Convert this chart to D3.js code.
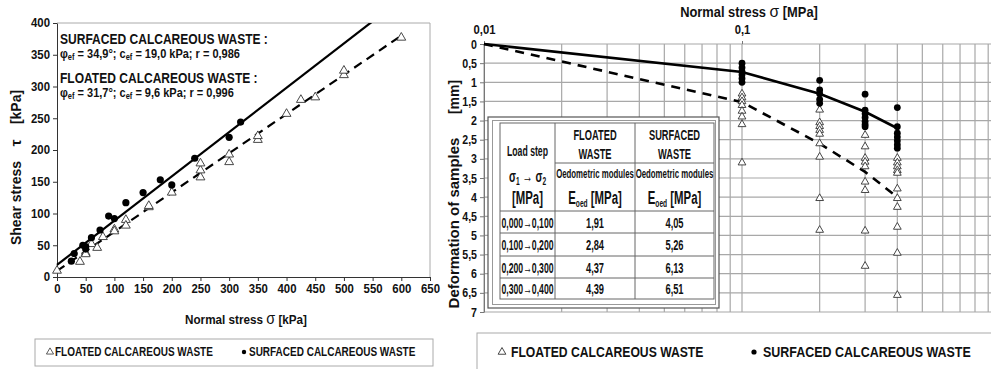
<!DOCTYPE html>
<html>
<head>
<meta charset="utf-8">
<script src="https://d3js.org/d3.v7.min.js"></script>
<style>
  body { margin: 0; background: #fff; }
  svg text { font-family: "Liberation Sans", Arial, sans-serif; font-weight: bold; fill: #111; }
</style>
</head>
<body>
<svg id="chart" width="991" height="369"></svg>
<script>
// ---- left chart: shear tests (sigma [kPa], tau [kPa])
const shearTicksX = d3.range(0, 651, 50);
const shearTicksY = d3.range(0, 401, 50);
const floatedSigma = [0, 40, 50, 50, 60, 70, 80, 100, 100, 120, 120, 160, 160, 200, 250, 250, 250, 300, 300, 350, 350, 400, 425, 450, 500, 500, 600];
const floatedTau = [10, 24, 38, 36, 52, 46, 63, 75, 72, 90, 81, 110, 112, 133, 157, 168, 179, 181, 193, 216, 222, 257, 279, 283, 318, 325, 377];
const surfacedSigma = [25, 30, 45, 50, 50, 60, 75, 90, 100, 120, 150, 180, 200, 240, 300, 320];
const surfacedTau = [25, 37, 50, 44, 48, 62, 74, 96, 92, 117, 133, 153, 145, 187, 220, 244];
// regression lines: c [kPa], phi [deg], last sigma
const fitCohesion = [9.6, 19.0];
const fitPhi = [31.7, 34.9];
const fitSigmaEnd = [600, 650];
const fitDash = ['9,6', null];
const annotTitles = ['SURFACED CALCAREOUS WASTE :', 'FLOATED CALCAREOUS WASTE :'];
const annotPhi = ['34,9°', '31,7°'];
const annotC = ['19,0 kPa', '9,6 kPa'];
const annotR = ['0,986', '0,996'];

// ---- right chart: oedometer tests (sigma [MPa], deformation [mm])
const oedStress = [0.1, 0.2, 0.3, 0.4];
const floatedDef = [
  [1.3, 1.4, 1.5, 1.6, 1.75, 1.9, 2.1, 3.1],
  [1.72, 2.05, 2.15, 2.25, 2.35, 2.6, 2.95, 4.03, 4.86],
  [2.38, 2.68, 2.98, 3.08, 3.2, 3.6, 3.82, 4.88, 5.8],
  [2.98, 3.1, 3.2, 3.3, 3.37, 3.78, 4.03, 4.26, 4.78, 5.46, 6.56]
];
const surfacedDef = [
  [0.5, 0.62, 0.72, 0.8, 0.9, 1.0],
  [0.95, 1.2, 1.3, 1.45, 1.55],
  [1.31, 1.73, 1.82, 1.92, 2.02, 2.1, 2.16],
  [1.66, 2.16, 2.33, 2.43, 2.53, 2.63, 2.72]
];
const curveStress = [0.01, 0.1, 0.2, 0.3, 0.4];
const floatedCurve = [0, 1.52, 2.6, 3.34, 4.0];
const surfacedCurve = [0, 0.73, 1.3, 1.77, 2.2];
const defTicks = d3.range(0, 7.01, 0.5);
const stressLabels = [0.01, 0.1];

// ---- table of oedometric modules
const tableSteps = ['0,000→0,100', '0,100→0,200', '0,200→0,300', '0,300→0,400'];
const floatedModules = ['1,91', '2,84', '4,37', '4,39'];
const surfacedModules = ['4,05', '5,26', '6,13', '6,51'];

const legendLabels = ['FLOATED CALCAREOUS WASTE', 'SURFACED CALCAREOUS WASTE'];

const svg = d3.select('#chart');
const comma = d => String(d).replace('.', ',');

// text helper: horizontally squeezed like the scanned figure
function label(g, s, x, y, size, opt = {}) {
  const t = g.append('text')
    .attr('transform', `translate(${x},${y})` + (opt.rot ? ` rotate(${opt.rot})` : '') + ` scale(${opt.sx || 1},1)`)
    .attr('text-anchor', opt.anchor || 'start')
    .style('font-size', size + 'px');
  if (s !== null) t.text(s);
  return t;
}
// squeeze axis tick labels the same way
function squeeze(axisG, size, sx, vertical) {
  axisG.selectAll('.tick text')
    .style('font-size', size + 'px')
    .style('font-family', '"Liberation Sans", Arial, sans-serif')
    .attr('fill', '#111')
    .attr('transform', `scale(${sx},1)`)
    .each(function () {
      if (vertical) d3.select(this).attr('x', +d3.select(this).attr('x') / sx);
    });
}
const tri = d3.symbol(d3.symbolTriangle);

// =============== LEFT CHART ===============
const xS = d3.scaleLinear().domain([0, 650]).range([57, 430]);
const yS = d3.scaleLinear().domain([0, 400]).range([277, 23]);
const left = svg.append('g');

left.append('clipPath').attr('id', 'clipL')
  .append('rect').attr('x', 40).attr('y', yS(400)).attr('width', xS(650) - 40).attr('height', yS(0) - yS(400) + 20);

// frame (top/right)
left.append('path')
  .attr('d', `M${xS(0)},${yS(400)}H${xS(650)}V${yS(0)}`)
  .attr('fill', 'none').attr('stroke', '#aaa');

const xAx = left.append('g').attr('transform', `translate(0,${yS(0)})`)
  .call(d3.axisBottom(xS).tickValues(shearTicksX).tickSize(4).tickSizeOuter(0).tickPadding(3));
const yAx = left.append('g').attr('transform', `translate(${xS(0)},0)`)
  .call(d3.axisLeft(yS).tickValues(shearTicksY).tickSize(4).tickSizeOuter(0).tickPadding(3));
squeeze(xAx, 12, 0.95, false);
squeeze(yAx, 12, 0.95, true);
[xAx, yAx].forEach(a => a.selectAll('line, path').attr('stroke', '#333'));

// fitted Coulomb lines
const lineL = d3.line().x(d => xS(d[0])).y(d => yS(d[1]));
fitCohesion.forEach((c, i) => {
  const pts = [[0, c], [fitSigmaEnd[i], c + fitSigmaEnd[i] * Math.tan(fitPhi[i] * Math.PI / 180)]];
  left.append('path').datum(pts).attr('d', lineL)
    .attr('clip-path', 'url(#clipL)')
    .attr('fill', 'none').attr('stroke', '#000').attr('stroke-width', 2.2)
    .attr('stroke-dasharray', fitDash[i]);
});

left.selectAll('.ft').data(floatedSigma).join('path')
  .attr('transform', (d, i) => `translate(${xS(d)},${yS(floatedTau[i])})`)
  .attr('d', tri.size(34)).attr('fill', '#fff').attr('stroke', '#333').attr('stroke-width', 0.9);
left.selectAll('.sd').data(surfacedSigma).join('circle')
  .attr('cx', d => xS(d)).attr('cy', (d, i) => yS(surfacedTau[i])).attr('r', 3.6).attr('fill', '#000');

// annotations
annotTitles.forEach((t, i) => {
  const y0 = 44 + i * 39;
  label(left, t, 60, y0, 14, { sx: 0.86 });
  const p = label(left, null, 60, y0 + 14, 12.5, { sx: 0.88 });
  p.append('tspan').text('φ');
  p.append('tspan').attr('dy', 2).style('font-size', '8.5px').text('ef');
  p.append('tspan').attr('dy', -2).text(' = ' + annotPhi[i] + '; c');
  p.append('tspan').attr('dy', 2).style('font-size', '8.5px').text('ef');
  p.append('tspan').attr('dy', -2).text(' = ' + annotC[i] + '; r = ' + annotR[i]);
});

// axis titles
const xt = label(left, null, 246, 324, 13, { anchor: 'middle', sx: 0.9 });
xt.text('Normal stress  ');
xt.append('tspan').style('font-size', '16px').style('font-weight', 'normal').text('σ');
xt.append('tspan').text('  [kPa]');
label(left, 'Shear stress', 21, 203, 14, { rot: -90, anchor: 'middle' });
label(left, 'τ', 21, 143, 15, { rot: -90, anchor: 'middle' });
label(left, '[kPa]', 21, 107, 14, { rot: -90, anchor: 'middle' });

// legend
left.append('rect').attr('x', 35).attr('y', 339).attr('width', 398).attr('height', 27)
  .attr('fill', 'none').attr('stroke', '#aaa');
left.append('path').attr('transform', 'translate(50,352)').attr('d', tri.size(22))
  .attr('fill', '#fff').attr('stroke', '#333').attr('stroke-width', 0.8);
label(left, legendLabels[0], 55, 356, 12.5, { sx: 0.8 });
left.append('circle').attr('cx', 244).attr('cy', 352).attr('r', 2.2).attr('fill', '#000');
label(left, legendLabels[1], 249, 356, 12.5, { sx: 0.8 });

// =============== RIGHT CHART ===============
const xL = d3.scaleLog().domain([0.01, 1]).range([484, 1000]);
const yD = d3.scaleLinear().domain([0, 7]).range([44, 312]);
const right = svg.append('g');

right.selectAll('.vg').data(xL.ticks()).join('line')
  .attr('x1', d => xL(d)).attr('x2', d => xL(d)).attr('y1', yD(0)).attr('y2', yD(7))
  .attr('stroke', '#a8a8a8').attr('stroke-width', 1.2);
right.selectAll('.hg').data(defTicks).join('line')
  .attr('x1', xL(0.01)).attr('x2', 991).attr('y1', d => yD(d)).attr('y2', d => yD(d))
  .attr('stroke', '#a8a8a8').attr('stroke-width', 1.2);

const yAxR = right.append('g').attr('transform', `translate(${xL(0.01)},0)`)
  .call(d3.axisLeft(yD).tickValues(defTicks).tickFormat(comma).tickSize(4).tickSizeOuter(0).tickPadding(3));
const xAxR = right.append('g').attr('transform', `translate(0,${yD(0)})`)
  .call(d3.axisTop(xL).tickValues(stressLabels).tickFormat(comma).tickSize(3).tickSizeOuter(0).tickPadding(7));
squeeze(yAxR, 12.5, 0.85, true);
squeeze(xAxR, 12.5, 0.9, false);
[yAxR, xAxR].forEach(a => a.selectAll('line, path').attr('stroke', '#777'));
xAxR.select('.domain').remove();

const lineR = d3.line().x(d => xL(d[0])).y(d => yD(d[1]));
right.append('path').datum(curveStress.map((s, i) => [s, floatedCurve[i]])).attr('d', lineR)
  .attr('fill', 'none').attr('stroke', '#000').attr('stroke-width', 2.6).attr('stroke-dasharray', '9,7');
right.append('path').datum(curveStress.map((s, i) => [s, surfacedCurve[i]])).attr('d', lineR)
  .attr('fill', 'none').attr('stroke', '#000').attr('stroke-width', 2.6);

oedStress.forEach((s, k) => {
  right.selectAll('.fr' + k).data(floatedDef[k]).join('path')
    .attr('transform', d => `translate(${xL(s)},${yD(d)})`)
    .attr('d', tri.size(26)).attr('fill', '#fff').attr('stroke', '#333').attr('stroke-width', 0.9);
  right.selectAll('.sr' + k).data(surfacedDef[k]).join('circle')
    .attr('cx', xL(s)).attr('cy', d => yD(d)).attr('r', 3.4).attr('fill', '#000');
});

// axis titles
const xtR = label(right, null, 749, 17, 14, { anchor: 'middle', sx: 0.92 });
xtR.text('Normal stress  ');
xtR.append('tspan').style('font-size', '17px').style('font-weight', 'normal').text('σ');
xtR.append('tspan').text('  [MPa]');
label(right, 'Deformation  of  samples', 459, 223, 15, { rot: -90, anchor: 'middle' });
label(right, '[mm]', 459, 97, 14, { rot: -90, anchor: 'middle' });

// table of modules
const tb = right.append('g');
tb.append('rect').attr('x', 488).attr('y', 117).attr('width', 231).attr('height', 191)
  .attr('fill', '#fff').attr('stroke', '#555').attr('stroke-width', 1.2);
tb.append('rect').attr('x', 492.5).attr('y', 120.5).attr('width', 223).attr('height', 184)
  .attr('fill', 'none').attr('stroke', '#999').attr('stroke-width', 1);
const colX = [500, 555, 635, 714];
const rowY = [123, 211, 233, 256, 278, 299];
tb.append('rect').attr('x', colX[0]).attr('y', rowY[0]).attr('width', colX[3] - colX[0]).attr('height', rowY[5] - rowY[0])
  .attr('fill', 'none').attr('stroke', '#666');
colX.slice(1, 3).forEach(x => tb.append('line').attr('x1', x).attr('x2', x).attr('y1', rowY[0]).attr('y2', rowY[5]).attr('stroke', '#666'));
rowY.slice(1, 5).forEach(y => tb.append('line').attr('x1', colX[0]).attr('x2', colX[3]).attr('y1', y).attr('y2', y).attr('stroke', '#666'));
tb.append('line').attr('x1', colX[1]).attr('x2', colX[3]).attr('y1', 163).attr('y2', 163).attr('stroke', '#666');

const cx = [(colX[0] + colX[1]) / 2, (colX[1] + colX[2]) / 2, (colX[2] + colX[3]) / 2];
const nx = 0.6;
label(tb, 'Load step', cx[0], 156, 14.5, { anchor: 'middle', sx: nx });
const sg = label(tb, null, cx[0], 182, 17, { anchor: 'middle', sx: nx });
sg.append('tspan').text('σ');
sg.append('tspan').attr('dy', 3).style('font-size', '11px').text('1');
sg.append('tspan').attr('dy', -3).text(' → σ');
sg.append('tspan').attr('dy', 3).style('font-size', '11px').text('2');
label(tb, '[MPa]', cx[0], 204, 19, { anchor: 'middle', sx: nx });
[['FLOATED', 'WASTE'], ['SURFACED', 'WASTE']].forEach((h, j) => {
  label(tb, h[0], cx[j + 1], 140, 15.5, { anchor: 'middle', sx: nx });
  label(tb, h[1], cx[j + 1], 159, 15.5, { anchor: 'middle', sx: nx });
  label(tb, 'Oedometric modules', cx[j + 1], 178, 13.5, { anchor: 'middle', sx: 0.58 });
  const e = label(tb, null, cx[j + 1], 204, 19, { anchor: 'middle', sx: nx });
  e.append('tspan').text('E');
  e.append('tspan').attr('dy', 3).style('font-size', '11px').text('oed');
  e.append('tspan').attr('dy', -3).text(' [MPa]');
});
tableSteps.forEach((s, i) => {
  const yb = (rowY[i + 1] + rowY[i + 2]) / 2 + 5.5;
  label(tb, s, cx[0], yb, 15.5, { anchor: 'middle', sx: 0.56 });
  label(tb, floatedModules[i], cx[1], yb, 15.5, { anchor: 'middle', sx: nx });
  label(tb, surfacedModules[i], cx[2], yb, 15.5, { anchor: 'middle', sx: nx });
});

// legend
right.append('rect').attr('x', 477).attr('y', 333).attr('width', 520).attr('height', 40)
  .attr('fill', 'none').attr('stroke', '#aaa');
right.append('path').attr('transform', 'translate(502,352)').attr('d', tri.size(26))
  .attr('fill', '#fff').attr('stroke', '#333').attr('stroke-width', 0.9);
label(right, legendLabels[0], 511, 357, 14.5, { sx: 0.84 });
right.append('circle').attr('cx', 754).attr('cy', 352).attr('r', 2.6).attr('fill', '#000');
label(right, legendLabels[1], 763, 357, 14.5, { sx: 0.86 });
</script>
</body>
</html>
